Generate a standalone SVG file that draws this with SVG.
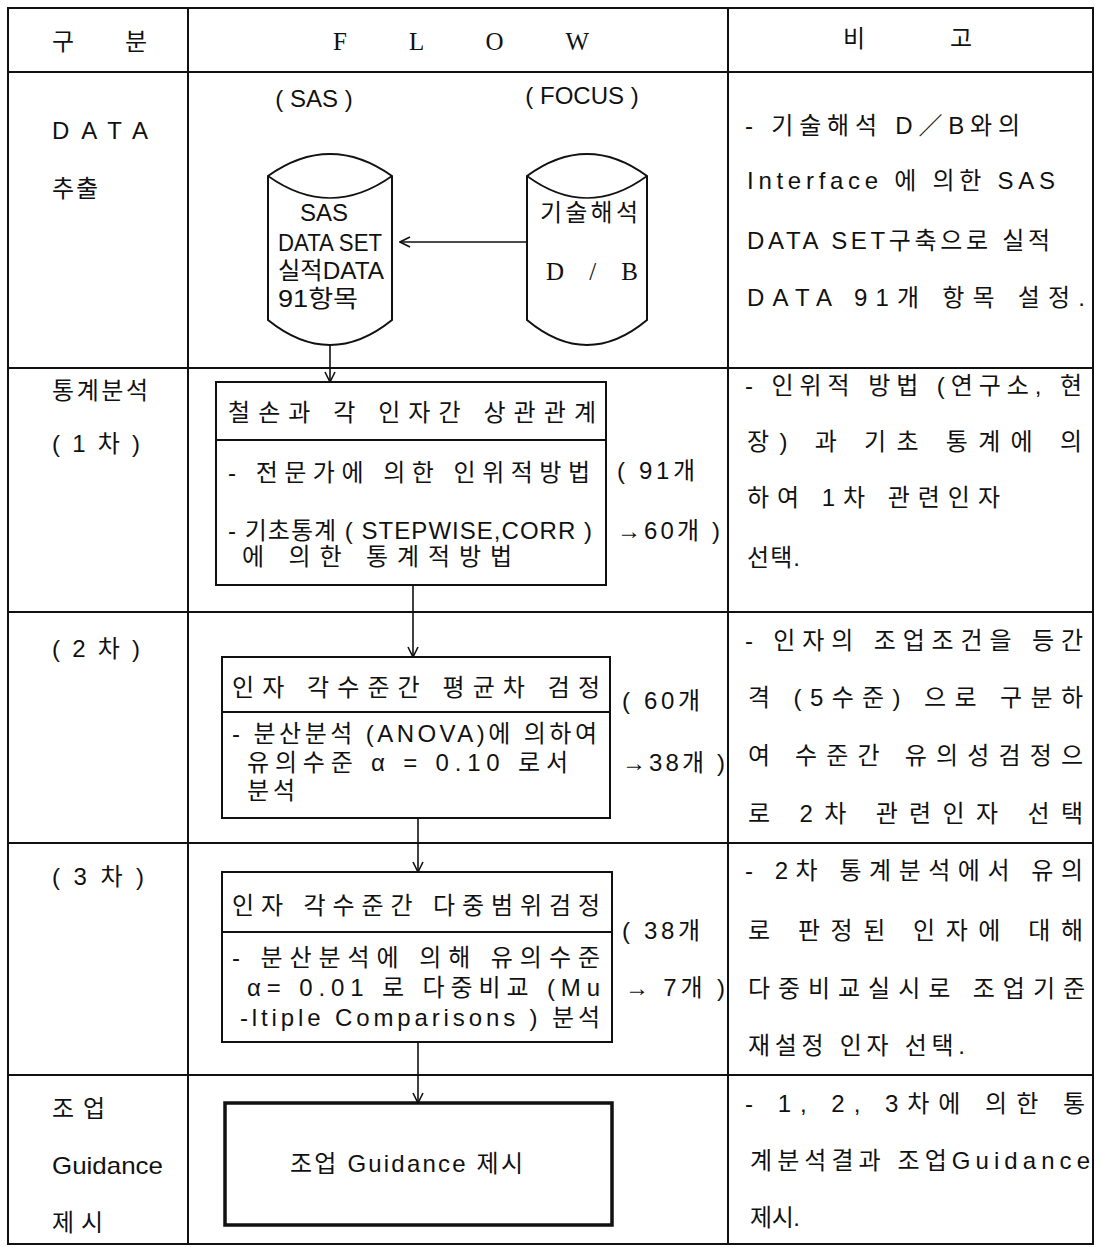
<svg xmlns="http://www.w3.org/2000/svg" width="1101" height="1247" viewBox="0 0 1101 1247">
<style>
.t{font-family:'Liberation Sans','Noto Sans CJK KR',sans-serif;font-size:24px;fill:#111}
.s{font-family:'Liberation Serif','Noto Sans CJK KR',serif;font-size:25px;fill:#111}
.ln{stroke:#111;stroke-width:2;fill:none}
.box{stroke:#111;stroke-width:2;fill:#fff}
.cyl{stroke:#111;stroke-width:2;fill:#fff}
.c{stroke:#111;stroke-width:1.6;fill:none}
</style>
<defs>
<marker id="ah" viewBox="0 0 12 12" refX="11" refY="6" markerWidth="12" markerHeight="12" markerUnits="userSpaceOnUse" orient="auto">
<path d="M1,1 L11,6 L1,11" fill="none" stroke="#111" stroke-width="1.6"/>
</marker>
</defs>
<rect x="0" y="0" width="1101" height="1247" fill="#fff"/>
<g id="table">
<rect class="ln" x="8" y="8" width="1085" height="1236"/>
<line class="ln" x1="188" y1="8" x2="188" y2="1244"/>
<line class="ln" x1="728" y1="8" x2="728" y2="1244"/>
<line class="ln" x1="8" y1="72" x2="1093" y2="72"/>
<line class="ln" x1="8" y1="368" x2="1093" y2="368"/>
<line class="ln" x1="8" y1="612" x2="1093" y2="612"/>
<line class="ln" x1="8" y1="843" x2="1093" y2="843"/>
<line class="ln" x1="8" y1="1075" x2="1093" y2="1075"/>
</g>
<g id="header">
<text class="t" x="52" y="50" textLength="95" lengthAdjust="spacing">구 분</text>
<text class="s" x="333" y="50" textLength="256" lengthAdjust="spacing">F L O W</text>
<text class="t" x="843" y="47" textLength="129" lengthAdjust="spacing">비 고</text>
</g>
<g id="labels">
<text class="t" x="52" y="139" textLength="96" lengthAdjust="spacing">DATA</text>
<text class="t" x="52" y="197" textLength="46" lengthAdjust="spacing">추출</text>
<text class="t" x="52" y="399" textLength="96" lengthAdjust="spacing">통계분석</text>
<text class="t" x="52" y="452" textLength="88" lengthAdjust="spacing">(1차)</text>
<text class="t" x="52" y="657" textLength="88" lengthAdjust="spacing">(2차)</text>
<text class="t" x="52" y="885" textLength="92" lengthAdjust="spacing">(3차)</text>
<text class="t" x="52" y="1117" textLength="53" lengthAdjust="spacing">조업</text>
<text class="t" x="52" y="1174" textLength="111" lengthAdjust="spacingAndGlyphs">Guidance</text>
<text class="t" x="52" y="1231" textLength="51" lengthAdjust="spacing">제시</text>
</g>
<g id="sas-db">
<text class="t" x="314" y="107" text-anchor="middle">( SAS )</text>
<path class="cyl" d="M268,176 Q330,132 392,176 L392,320 Q330,370 268,320 Z"/>
<path class="c" d="M268,176 Q330,220 392,176"/>
<text class="t" x="300" y="221" textLength="48" lengthAdjust="spacingAndGlyphs">SAS</text>
<text class="t" x="278" y="251" textLength="104" lengthAdjust="spacingAndGlyphs">DATA SET</text>
<text class="t" x="278" y="279" textLength="106" lengthAdjust="spacingAndGlyphs">실적DATA</text>
<text class="t" x="278" y="307" textLength="80" lengthAdjust="spacingAndGlyphs">91항목</text>
</g>
<g id="focus-db">
<text class="t" x="582" y="104" text-anchor="middle">( FOCUS )</text>
<path class="cyl" d="M527,176 Q587,132 647,176 L647,320 Q587,370 527,320 Z"/>
<path class="c" d="M527,176 Q587,220 647,176"/>
<text class="t" x="540" y="221" textLength="98" lengthAdjust="spacing">기술해석</text>
<text class="s" x="546" y="280" textLength="92" lengthAdjust="spacing">D / B</text>
</g>
<g id="step1">
<rect class="box" x="216" y="382" width="390" height="203"/>
<line class="ln" x1="216" y1="440" x2="606" y2="440"/>
<text class="t" x="228" y="421" textLength="368" lengthAdjust="spacing">철손과 각 인자간 상관관계</text>
<text class="t" x="228" y="481" textLength="362" lengthAdjust="spacing">- 전문가에 의한 인위적방법</text>
<text class="t" x="228" y="539" textLength="364" lengthAdjust="spacing">- 기초통계 ( STEPWISE,CORR )</text>
<text class="t" x="242" y="565" textLength="270" lengthAdjust="spacing">에 의한 통계적방법</text>
<text class="t" x="617" y="479" textLength="78" lengthAdjust="spacing">( 91개</text>
<text class="t" x="617" y="539" textLength="103" lengthAdjust="spacing">→60개 )</text>
</g>
<g id="step2">
<rect class="box" x="222" y="657" width="388" height="161"/>
<line class="ln" x1="222" y1="712" x2="610" y2="712"/>
<text class="t" x="232" y="696" textLength="368" lengthAdjust="spacing">인자 각수준간 평균차 검정</text>
<text class="t" x="232" y="742" textLength="365" lengthAdjust="spacing">- 분산분석 (ANOVA)에 의하여</text>
<text class="t" x="247" y="771" textLength="321" lengthAdjust="spacing">유의수준  α = 0.10 로서</text>
<text class="t" x="247" y="799" textLength="48" lengthAdjust="spacing">분석</text>
<text class="t" x="622" y="709" textLength="78" lengthAdjust="spacing">( 60개</text>
<text class="t" x="622" y="771" textLength="103" lengthAdjust="spacing">→38개 )</text>
</g>
<g id="step3">
<rect class="box" x="222" y="872" width="390" height="170"/>
<line class="ln" x1="222" y1="932" x2="612" y2="932"/>
<text class="t" x="232" y="914" textLength="368" lengthAdjust="spacing">인자 각수준간 다중범위검정</text>
<text class="t" x="232" y="966" textLength="368" lengthAdjust="spacing">- 분산분석에 의해 유의수준</text>
<text class="t" x="247" y="996" textLength="353" lengthAdjust="spacing">α= 0.01 로 다중비교 (Mu</text>
<text class="t" x="240" y="1026" textLength="360" lengthAdjust="spacing">-ltiple Comparisons ) 분석</text>
<text class="t" x="622" y="939" textLength="78" lengthAdjust="spacing">( 38개</text>
<text class="t" x="625" y="996" textLength="100" lengthAdjust="spacing">→ 7개 )</text>
</g>
<g id="guidance">
<rect x="225" y="1103" width="387" height="122" fill="#fff" stroke="#111" stroke-width="3.5"/>
<text class="t" x="290" y="1172" textLength="233" lengthAdjust="spacing">조업 Guidance 제시</text>
</g>
<g id="notes">
<text class="t" x="745" y="134" textLength="275" lengthAdjust="spacing">- 기술해석  D／B와의</text>
<text class="t" x="747" y="189" textLength="308" lengthAdjust="spacing">Interface 에 의한 SAS</text>
<text class="t" x="747" y="249" textLength="303" lengthAdjust="spacing">DATA SET구축으로 실적</text>
<text class="t" x="747" y="306" textLength="338" lengthAdjust="spacing">DATA 91개 항목 설정.</text>
<text class="t" x="745" y="394" textLength="337" lengthAdjust="spacing">- 인위적  방법 (연구소, 현</text>
<text class="t" x="747" y="450" textLength="335" lengthAdjust="spacing">장) 과 기초 통계에 의</text>
<text class="t" x="747" y="506" textLength="253" lengthAdjust="spacing">하여 1차 관련인자</text>
<text class="t" x="747" y="566" textLength="53" lengthAdjust="spacing">선택.</text>
<text class="t" x="745" y="649" textLength="338" lengthAdjust="spacing">- 인자의 조업조건을 등간</text>
<text class="t" x="748" y="706" textLength="335" lengthAdjust="spacing">격 (5수준) 으로 구분하</text>
<text class="t" x="748" y="764" textLength="335" lengthAdjust="spacing">여 수준간 유의성검정으</text>
<text class="t" x="748" y="822" textLength="335" lengthAdjust="spacing">로 2차 관련인자 선택</text>
<text class="t" x="745" y="879" textLength="338" lengthAdjust="spacing">- 2차 통계분석에서 유의</text>
<text class="t" x="748" y="939" textLength="335" lengthAdjust="spacing">로 판정된 인자에 대해</text>
<text class="t" x="748" y="997" textLength="337" lengthAdjust="spacing">다중비교실시로 조업기준</text>
<text class="t" x="748" y="1054" textLength="217" lengthAdjust="spacing">재설정 인자 선택.</text>
<text class="t" x="745" y="1112" textLength="340" lengthAdjust="spacing">- 1, 2, 3차에 의한 통</text>
<text class="t" x="750" y="1169" textLength="340" lengthAdjust="spacing">계분석결과 조업Guidance</text>
<text class="t" x="750" y="1226" textLength="50" lengthAdjust="spacing">제시.</text>
</g>
<g id="connectors">
<line class="c" x1="527" y1="242" x2="400" y2="242" marker-end="url(#ah)"/>
<line class="c" x1="330" y1="345" x2="330" y2="382" marker-end="url(#ah)"/>
<line class="c" x1="413" y1="585" x2="413" y2="657" marker-end="url(#ah)"/>
<line class="c" x1="418" y1="818" x2="418" y2="872" marker-end="url(#ah)"/>
<line class="c" x1="418" y1="1042" x2="418" y2="1103" marker-end="url(#ah)"/>
</g>
</svg>
